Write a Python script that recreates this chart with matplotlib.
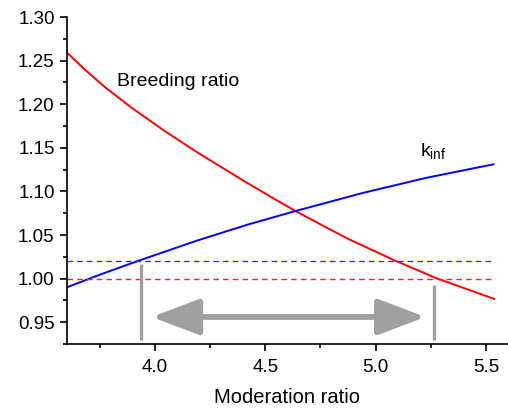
import numpy as np
import matplotlib.pyplot as plt
from matplotlib.ticker import MultipleLocator

# values
br_x = [3.597, 3.687, 3.777, 3.897, 4.047, 4.197, 4.395, 4.546, 4.636,
        4.771, 4.876, 5.086, 5.274, 5.537]
breeding = [1.2603, 1.2387, 1.2189, 1.1955, 1.1688, 1.1440, 1.1133, 1.0907, 1.0776,
            1.0594, 1.0455, 1.0209, 1.0006, 0.9767]
kinf_x = [3.597, 3.747, 3.935, 4.197, 4.423, 4.633, 4.935, 5.225, 5.534]
kinf = [0.9896, 1.0042, 1.0213, 1.0441, 1.0621, 1.0772, 1.0978, 1.1153, 1.1311]

kinf_limit = 1.02
br_limit = 1.00
range_lo, range_hi = 3.937, 5.266

plt.rcParams['font.family'] = ['Liberation Sans', 'DejaVu Sans']

fig = plt.figure(figsize=(5.08, 4.11), dpi=100)
ax = fig.add_axes([0.131, 0.163, 0.869, 0.7956])

ax.plot(br_x, breeding, color='#ff0000', lw=1.4)
ax.plot(kinf_x, kinf, color='#0000ff', lw=1.4)

ax.plot([3.6, 5.53], [kinf_limit, kinf_limit], color='#3030ff', ls=(0, (4, 3)), lw=1.0)
ax.plot([3.6, 5.53], [br_limit, br_limit], color='#ff2020', ls=(0, (4, 3)), lw=1.0)

gray = '#a0a0a0'
ax.vlines(range_lo, 0.93, 1.017, colors=gray, lw=2.4)
ax.vlines(range_hi, 0.93, 0.993, colors=gray, lw=2.4)
ax.annotate('', xy=(3.986, 0.956), xytext=(5.226, 0.956),
            arrowprops=dict(arrowstyle='<|-|>,head_length=2.9,head_width=1.1',
                            color=gray, lw=4.2, shrinkA=0, shrinkB=0))

ax.text(3.83, 1.226, 'Breeding ratio', fontsize=14, va='center', ha='left')
ax.text(5.2, 1.140, r'k$_{\mathregular{inf}}$', fontsize=14, va='baseline', ha='left')

ax.set_xlim(3.6, 5.6)
ax.set_ylim(0.925, 1.30)
ax.xaxis.set_major_locator(MultipleLocator(0.5))
ax.xaxis.set_minor_locator(MultipleLocator(0.25))
ax.yaxis.set_major_locator(MultipleLocator(0.05))
ax.yaxis.set_minor_locator(MultipleLocator(0.025))
ax.xaxis.set_major_formatter(plt.FormatStrFormatter('%.1f'))
ax.yaxis.set_major_formatter(plt.FormatStrFormatter('%.2f'))

ax.spines['top'].set_visible(False)
ax.spines['right'].set_visible(False)
ax.spines['left'].set_linewidth(1.2)
ax.spines['bottom'].set_linewidth(1.2)
ax.tick_params(which='major', direction='out', length=5, width=1.2, labelsize=13.5)
ax.tick_params(which='minor', direction='out', length=3, width=1.2)
ax.tick_params(axis='x', pad=6)

ax.set_xlabel('Moderation ratio', fontsize=14.5)
ax.xaxis.set_label_coords(0.5, -0.135)

fig.savefig('out.png', dpi=100)
